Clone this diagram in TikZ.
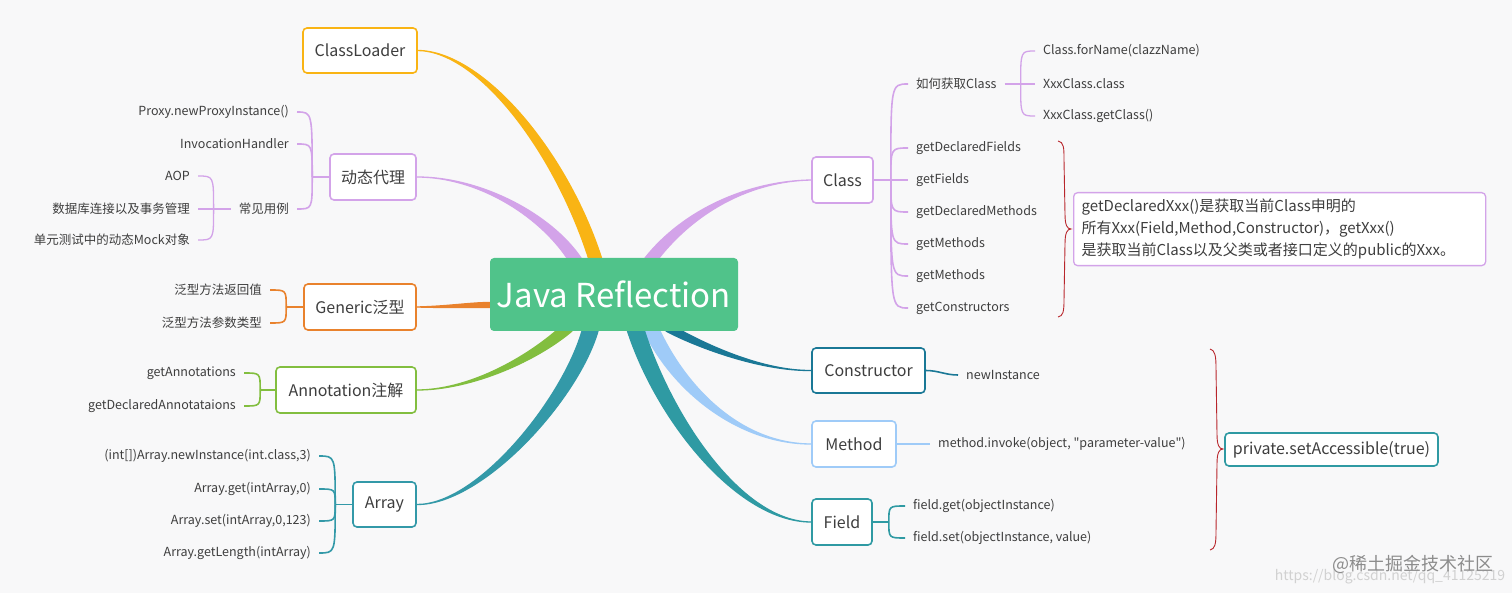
\documentclass[tikz,border=0pt]{standalone}
\usepackage{fontspec}
\setmainfont{Noto Sans CJK SC}
\newfontfamily\plainfont{Noto Sans CJK SC}
\usetikzlibrary{calc,backgrounds}

\definecolor{bgcol}{HTML}{F8F8F9}
\definecolor{txt}{HTML}{3E3E3E}
\definecolor{root}{HTML}{50C38A}
\definecolor{loader}{HTML}{F9B414}
\definecolor{proxy}{HTML}{D3A3E9}
\definecolor{generic}{HTML}{E9822D}
\definecolor{annot}{HTML}{82BE3F}
\definecolor{arr}{HTML}{3399A8}
\definecolor{cls}{HTML}{D3A3E9}
\definecolor{ctor}{HTML}{1A7896}
\definecolor{meth}{HTML}{9FCBF8}
\definecolor{fld}{HTML}{2F9AA3}
\definecolor{brace}{HTML}{B8262C}

% tapered main branch: colour, thin end, control 1, control 2, thick end, half width
\newcommand{\branch}[6]{%
  \filldraw[#1, line width=1.3pt, line join=round]
    (#2) .. controls ($(#3)+0.35*(#6)$) and ($(#4)+(#6)$) .. ($(#5)+(#6)$)
    -- ($(#5)-(#6)$) .. controls ($(#4)-(#6)$) and ($(#3)-0.35*(#6)$) .. (#2) -- cycle;}

\begin{document}
\begin{tikzpicture}[x=1pt, y=-1pt,
    box/.style={draw, fill=white, rounded corners=4pt, line width=1.6pt,
      minimum height=46pt, inner sep=0pt, text=txt,
      font=\fontsize{16}{19}\selectfont},
    leaf/.style={text=txt, inner xsep=8pt, inner ysep=0pt,
      font=\fontsize{12.5}{14}\selectfont},
    link/.style={line width=1.6pt},
    thinlink/.style={line width=1.3pt},
    twig/.style={to path={.. controls (\tikztostart |- \tikztotarget) .. (\tikztotarget)}}]

  \useasboundingbox (0,0) rectangle (1512,593);

  % centre
  \node[fill=root, rounded corners=4pt, minimum width=248pt, minimum height=73pt,
    text=white, font=\fontsize{33}{38}\selectfont] (jr) at (614,294.5) {Java Reflection};

  % left side
  \node[box, draw=loader, minimum width=114pt, minimum height=45pt] (cl) at (360,50.5) {ClassLoader};

  \node[box, draw=proxy, minimum width=86pt] (dp) at (373,177) {动态代理};
  \node[leaf, anchor=east] (dp1) at (297,112) {Proxy.newProxyInstance()};
  \node[leaf, anchor=east] (dp2) at (297,144) {InvocationHandler};
  \node[leaf, anchor=east] (dp3) at (297,209) {常见用例};
  \node[leaf, anchor=east] (use1) at (198,176) {AOP};
  \node[leaf, anchor=east] (use2) at (198,209) {数据库连接以及事务管理};
  \node[leaf, anchor=east] (use3) at (198,240) {单元测试中的动态Mock对象};

  \node[box, draw=generic, minimum width=112pt] (gen) at (360,307) {Generic泛型};
  \node[leaf, anchor=east] (gen1) at (270,290) {泛型方法返回值};
  \node[leaf, anchor=east] (gen2) at (270,323) {泛型方法参数类型};

  \node[box, draw=annot, minimum width=140pt] (ann) at (346,390) {Annotation注解};
  \node[leaf, anchor=east] (ann1) at (244,373) {getAnnotations};
  \node[leaf, anchor=east] (ann2) at (244,406) {getDeclaredAnnotataions};

  \node[box, draw=arr, minimum width=63pt, minimum height=45pt] (ar) at (384.5,504.5) {Array};
  \node[leaf, anchor=east] (ar1) at (319,456) {(int[])Array.newInstance(int.class,3)};
  \node[leaf, anchor=east] (ar2) at (319,489) {Array.get(intArray,0)};
  \node[leaf, anchor=east] (ar3) at (319,521) {Array.set(intArray,0,123)};
  \node[leaf, anchor=east] (ar4) at (319,553) {Array.getLength(intArray)};

  % right side
  \node[box, draw=cls, minimum width=61pt] (cs) at (842.5,180) {Class};
  \node[leaf, anchor=west] (how) at (908,84) {如何获取Class};
  \node[leaf, anchor=west] (how1) at (1035,51) {Class.forName(clazzName)};
  \node[leaf, anchor=west] (how2) at (1035,84) {XxxClass.class};
  \node[leaf, anchor=west] (how3) at (1035,116) {XxxClass.getClass()};
  \node[leaf, anchor=west] (cs1) at (908,148) {getDeclaredFields};
  \node[leaf, anchor=west] (cs2) at (908,180) {getFields};
  \node[leaf, anchor=west] (cs3) at (908,212) {getDeclaredMethods};
  \node[leaf, anchor=west] (cs4) at (908,244) {getMethods};
  \node[leaf, anchor=west] (cs5) at (908,276) {getMethods};
  \node[leaf, anchor=west] (cs6) at (908,308) {getConstructors};

  \node[draw=proxy, fill=white, rounded corners=4pt, line width=1.3pt, anchor=north west,
    text width=396pt, minimum height=73pt, inner xsep=8pt, align=left, text=txt,
    font=\fontsize{15}{22}\selectfont] (note) at (1073,192)
    {getDeclaredXxx()是获取当前Class申明的\\
     所有Xxx(Field,Method,Constructor)，getXxx()\\
     是获取当前Class以及父类或者接口定义的public的Xxx。};

  \node[box, draw=ctor, minimum width=113pt, minimum height=45pt] (co) at (868.5,370.5) {Constructor};
  \node[leaf, anchor=west] (co1) at (958,375) {newInstance};

  \node[box, draw=meth, minimum width=84pt] (me) at (854,444) {Method};
  \node[leaf, anchor=west] (me1) at (930,444) {\plainfont method.invoke(object, "parameter-value")};

  \node[box, draw=fld, minimum width=60pt] (fi) at (842,522) {Field};
  \node[leaf, anchor=west] (fi1) at (905,506) {field.get(objectInstance)};
  \node[leaf, anchor=west] (fi2) at (905,538) {field.set(objectInstance, value)};

  \node[draw=fld, fill=white, rounded corners=4pt, line width=1.6pt, minimum width=213pt,
    minimum height=33pt, text=txt, font=\fontsize{16}{19}\selectfont] (acc) at (1331.5,449.5)
    {private.setAccessible(true)};

  % sub links
  \draw[link, proxy] (dp.west) -- ++(-17,0) coordinate (dpj);
  \foreach \n in {dp1,dp2,dp3} \draw[link, proxy] (dpj) to[twig] (\n.east);
  \draw[thinlink, proxy] (dp3.west) -- ++(-17,0) coordinate (usej);
  \foreach \n in {use1,use2,use3} \draw[thinlink, proxy] (usej) to[twig] (\n.east);

  \draw[link, generic] (gen.west) -- ++(-17,0) coordinate (genj);
  \foreach \n in {gen1,gen2} \draw[link, generic] (genj) to[twig] (\n.east);

  \draw[link, annot] (ann.west) -- ++(-15,0) coordinate (annj);
  \foreach \n in {ann1,ann2} \draw[link, annot] (annj) to[twig] (\n.east);

  \draw[link, arr] (ar.west) -- ++(-17,0) coordinate (arj);
  \foreach \n in {ar1,ar2,ar3,ar4} \draw[link, arr] (arj) to[twig] (\n.east);

  \draw[link, cls] (cs.east) -- ++(17,0) coordinate (csj);
  \foreach \n in {how,cs1,cs2,cs3,cs4,cs5,cs6} \draw[link, cls] (csj) to[twig] (\n.west);
  \draw[thinlink, cls] (how.east) -- ++(16,0) coordinate (howj);
  \foreach \n in {how1,how2,how3} \draw[thinlink, cls] (howj) to[twig] (\n.west);

  \draw[link, ctor] (co.east) to[out=0, in=180] (co1.west);
  \draw[link, meth] (me.east) -- (me1.west);

  \draw[link, fld] (fi.east) -- ++(16,0) coordinate (fij);
  \foreach \n in {fi1,fi2} \draw[link, fld] (fij) to[twig] (\n.west);

  % braces
  \draw[brace, line width=0.9pt] (1058,141) .. controls (1064,142) and (1064,148) .. (1064,160)
    -- (1065,214) .. controls (1065,225) and (1067,229) .. (1071,229)
    .. controls (1067,229) and (1065,233) .. (1065,244)
    -- (1064,300) .. controls (1064,312) and (1063,316) .. (1058,317);
  \draw[brace, line width=0.9pt] (1210,349) .. controls (1215,350) and (1216,356) .. (1216,368)
    -- (1217,434) .. controls (1217,445) and (1219,449) .. (1223,449)
    .. controls (1219,449) and (1217,453) .. (1217,464)
    -- (1216,532) .. controls (1216,544) and (1215,549) .. (1210,550);

  % watermark
  \node[text=black!18, font=\fontsize{14}{16}\selectfont] (wm2) at (1390,577) {https://blog.csdn.net/qq\_41125219};
  \node[text=black!45, font=\fontsize{18}{20}\selectfont] (wm1) at (1413,564) {@稀土掘金技术社区};

  % main branches
  \begin{scope}[on background layer]
    \fill[bgcol] (0,0) rectangle (1512,593);
    \branch{loader}{cl.east}{480,51}{560,150}{595,258}{6.5,0}
    \branch{proxy}{dp.east}{480,177}{545,215}{574,258}{7,0}
    \branch{cls}{cs.west}{750,181}{690,210}{652,258}{7,0}
    \branch{generic}{gen.east}{450,307}{470,305}{490,305}{0,2.5}
    \branch{annot}{ann.east}{470,390}{530,360}{564,331}{8,0}
    \branch{arr}{ar.east}{480,505}{570,400}{590,331}{8,0}
    \branch{ctor}{co.west}{760,371}{700,345}{674,331}{8,0}
    \branch{meth}{me.west}{740,444}{680,390}{652,331}{8,0}
    \branch{fld}{fi.west}{740,522}{665,420}{636,331}{8.5,0}
  \end{scope}
\end{tikzpicture}
\end{document}
